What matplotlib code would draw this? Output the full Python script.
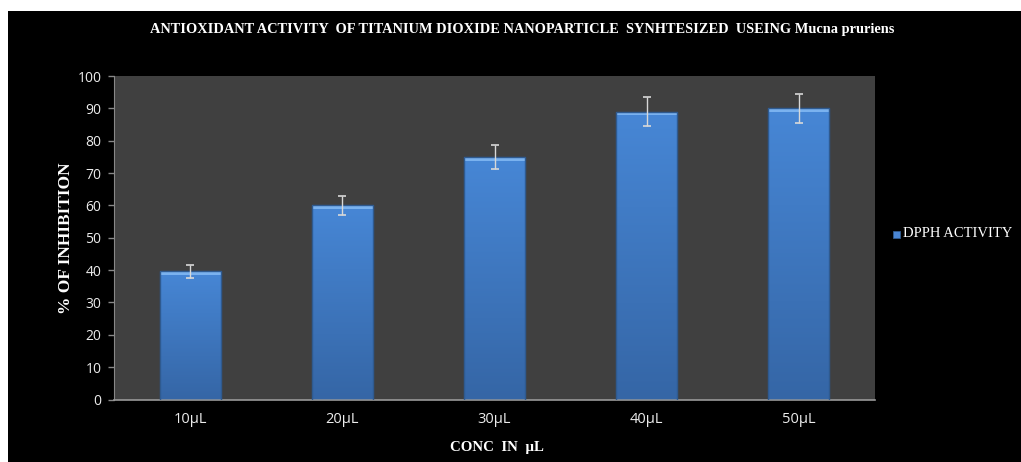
import matplotlib
matplotlib.use("Agg")
import matplotlib.pyplot as plt
import numpy as np
from matplotlib.patches import Rectangle
from matplotlib.colors import LinearSegmentedColormap

categories = ["10µL", "20µL", "30µL", "40µL", "50µL"]
values = [39.7, 60.0, 75.0, 89.0, 90.0]
errors = [2.0, 3.0, 3.7, 4.5, 4.5]
series_name = "DPPH ACTIVITY"
title = "ANTIOXIDANT ACTIVITY  OF TITANIUM DIOXIDE NANOPARTICLE  SYNHTESIZED  USEING Mucna pruriens"
xlabel = "CONC  IN  µL"
ylabel = "% OF INHIBITION"
yticks = [0, 10, 20, 30, 40, 50, 60, 70, 80, 90, 100]

serif = ["Liberation Serif", "DejaVu Serif"]
sans = ["Open Sans", "DejaVu Sans"]

fig = plt.figure(figsize=(10.21, 4.62), dpi=100, facecolor="white")
bg = Rectangle((8 / 1021, 0), 1 - 8 / 1021, 1 - 11 / 462,
               transform=fig.transFigure, facecolor="black",
               edgecolor="none", zorder=-10)
fig.patches.append(bg)

ax = fig.add_axes([114 / 1021, (462 - 399.5) / 462, (875 - 114) / 1021, (399.5 - 76) / 462])
ax.set_zorder(1)
ax.set_facecolor("#404040")

x = np.arange(len(categories))
bars = ax.bar(x, values, width=0.4, color="#4580cc", edgecolor="#2f5a8f",
              linewidth=0.8, zorder=2, label=series_name)

cmap = LinearSegmentedColormap.from_list("g", ["#3566a6", "#4787d6"])
grad = np.linspace(0, 1, 256).reshape(-1, 1)
for b in bars:
    x0, w, h = b.get_x(), b.get_width(), b.get_height()
    im = ax.imshow(grad, cmap=cmap, aspect="auto", origin="lower",
                   extent=(x0, x0 + w, 0, h), zorder=2.5)
    im.set_clip_path(b)
    ax.add_patch(Rectangle((x0, h - 1.2), w, 1.2, facecolor="#7ab2ef",
                           edgecolor="none", zorder=2.6))
    ax.add_patch(Rectangle((x0, 0), w, h, facecolor="none",
                           edgecolor="#2f5a8f", linewidth=1.0, zorder=2.7))

ax.errorbar(x, values, yerr=errors, fmt="none", ecolor="#d8d8d8",
            elinewidth=1.0, capsize=2.8, capthick=1.2, zorder=3)

ax.set_xlim(-0.5, len(categories) - 0.5)
ax.set_ylim(0, 100)
ax.set_yticks(yticks)
ax.set_xticks(x)
ax.set_xticklabels(categories, family=sans, fontsize=10.5, color="#ececec")
for lab in ax.get_yticklabels():
    lab.set_family(sans)
    lab.set_fontsize(10)
    lab.set_color("#ececec")

ax.tick_params(axis="y", length=4, width=1, color="#888888", pad=5)
ax.tick_params(axis="x", length=0, pad=9)
for s in ["top", "right"]:
    ax.spines[s].set_visible(False)
ax.spines["left"].set_color("#888888")
ax.spines["bottom"].set_color("#999999")
ax.spines["bottom"].set_linewidth(1.2)

fig.text(522 / 1021, 1 - 30 / 462, title, ha="center", va="center",
         family=serif, fontweight="bold", fontsize=10.4, color="white")
fig.text(497 / 1021, 1 - 447 / 462, xlabel, ha="center", va="center",
         family=serif, fontweight="bold", fontsize=10.7, color="white")
fig.text(66 / 1021, 1 - 238 / 462, ylabel, ha="center", va="center",
         rotation=90, family=serif, fontweight="bold", fontsize=12.5, color="white")

fig.patches.append(Rectangle((893 / 1021, 1 - 238 / 462), 7 / 1021, 7 / 462,
                             transform=fig.transFigure, facecolor="#4a86d4",
                             edgecolor="#2f5a8f", linewidth=0.6, zorder=5))
fig.text(903 / 1021, 1 - 234 / 462, series_name, ha="left", va="center",
         family=serif, fontsize=10.5, color="white")

fig.savefig("out.png", dpi=100, facecolor=fig.get_facecolor())
